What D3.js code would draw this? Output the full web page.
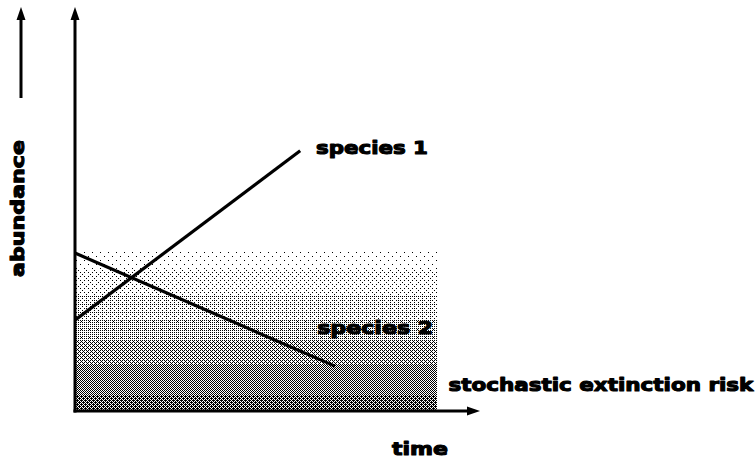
<!DOCTYPE html>
<html>
<head>
<meta charset="utf-8">
<script src="https://cdn.jsdelivr.net/npm/d3@7"></script>
<style>
  body { margin: 0; background: #fff; }
  text { font-family: "DejaVu Sans", sans-serif; font-weight: bold; fill: #000; stroke: #000; stroke-width: 1.1; stroke-linejoin: round; }
</style>
</head>
<body>
<div id="chart"></div>
<script>
// conceptual values, time and abundance both on a 0-100 scale
var species1 = [{t: 0, a: 22.5}, {t: 55.6, a: 64.4}]
var species2 = [{t: 0, a: 39.1}, {t: 64.2, a: 11.1}]

// extinction risk zone, split into bands that get darker towards zero
var riskEnd = 89.4
var riskBands = [39.4, 34.9, 28.7, 22.5, 17.6, 11.4, 4.0, 0]

var labels = [
  {text: 'species 1', t: 59.5, a: 63.5, len: 112},
  {text: 'species 2', t: 59.8, a: 19.0, len: 116},
  {text: 'stochastic extinction risk', t: 92.2, a: 4.9, len: 305}
]

var width = 755,
    height = 462

var svg = d3.select('#chart').append('svg')
  .attr('width', width)
  .attr('height', height)

var x = d3.scaleLinear().domain([0, 100]).range([75, 480])
var y = d3.scaleLinear().domain([0, 100]).range([411, 7])

// ordered dither: 8x8 bayer matrix, each band keeps the cells below its level
var bayer = [[0]]
for(var n = 0; n < 3; n++){
  var s = bayer.length, next = []
  for(var r = 0; r < s * 2; r++){
    next.push([])
    for(var c = 0; c < s * 2; c++){
      var b = bayer[r % s][c % s] * 4
      var q = (r < s ? 0 : 2) + (c < s ? 0 : 1)
      next[r].push(b + [0, 2, 3, 1][q])
    }
  }
  bayer = next
}
var levels = [2, 6, 11, 17, 24, 32, 40]

var defs = svg.append('defs')

levels.forEach(function(level, i){
  var pat = defs.append('pattern')
    .attr('id', 'dots' + i)
    .attr('patternUnits', 'userSpaceOnUse')
    .attr('width', 8)
    .attr('height', 8)
  pat.append('rect')
    .attr('width', 8)
    .attr('height', 8)
    .attr('fill', '#fff')
  var cells = []
  bayer.forEach(function(row, r){
    row.forEach(function(v, c){ if(v < level) cells.push([c, r]) })
  })
  pat.selectAll('rect.d')
    .data(cells)
    .enter()
    .append('rect')
    .attr('class', 'd')
    .attr('x', d => d[0])
    .attr('y', d => d[1])
    .attr('width', 1)
    .attr('height', 1)
    .attr('fill', '#000')
})

// shaded bands
var bandData = d3.range(riskBands.length - 1).map(i => ({top: riskBands[i], bottom: riskBands[i + 1], i: i}))

svg.selectAll('rect.band')
  .data(bandData)
  .enter()
  .append('rect')
  .attr('class', 'band')
  .attr('x', x(0))
  .attr('y', d => Math.round(y(d.top)))
  .attr('width', Math.round(x(riskEnd) - x(0)))
  .attr('height', d => Math.round(y(d.bottom)) - Math.round(y(d.top)))
  .attr('fill', d => 'url(#dots' + d.i + ')')
  .attr('shape-rendering', 'crispEdges')

var line = d3.line()
  .x(d => x(d.t))
  .y(d => y(d.a))

svg.selectAll('path.species')
  .data([species1, species2])
  .enter()
  .append('path')
  .attr('class', 'species')
  .attr('d', line)
  .attr('fill', 'none')
  .attr('stroke', '#000')
  .attr('stroke-width', 3.2)

// axes
svg.append('line')
  .attr('x1', x(0)).attr('y1', y(0) + 1.5)
  .attr('x2', x(0)).attr('y2', y(100) + 8)
  .attr('stroke', '#000')
  .attr('stroke-width', 3)

svg.append('line')
  .attr('x1', x(0) - 1.5).attr('y1', y(0))
  .attr('x2', x(100) - 8).attr('y2', y(0))
  .attr('stroke', '#000')
  .attr('stroke-width', 3)

// small arrow next to the y label
svg.append('line')
  .attr('x1', 21).attr('y1', 98)
  .attr('x2', 21).attr('y2', 15)
  .attr('stroke', '#000')
  .attr('stroke-width', 3)

function arrowUp(cx, tip){
  return 'M' + cx + ',' + tip + ' L' + (cx + 4.5) + ',' + (tip + 13) + ' L' + (cx - 4.5) + ',' + (tip + 13) + ' Z'
}
function arrowRight(tip, cy){
  return 'M' + tip + ',' + cy + ' L' + (tip - 13) + ',' + (cy - 4.5) + ' L' + (tip - 13) + ',' + (cy + 4.5) + ' Z'
}

svg.append('path').attr('d', arrowUp(x(0), y(100))).attr('fill', '#000')
svg.append('path').attr('d', arrowUp(21, 7)).attr('fill', '#000')
svg.append('path').attr('d', arrowRight(x(100), y(0))).attr('fill', '#000')

svg.selectAll('text.lbl')
  .data(labels)
  .enter()
  .append('text')
  .attr('class', 'lbl')
  .attr('x', d => x(d.t))
  .attr('y', d => y(d.a))
  .attr('font-size', 18)
  .attr('textLength', d => d.len)
  .attr('lengthAdjust', 'spacingAndGlyphs')
  .text(d => d.text)

svg.append('text')
  .attr('x', 392)
  .attr('y', 455)
  .attr('font-size', 18)
  .attr('textLength', 56)
  .attr('lengthAdjust', 'spacingAndGlyphs')
  .text('time')

svg.append('text')
  .attr('transform', 'translate(24,277) rotate(-90)')
  .attr('font-size', 18)
  .attr('textLength', 137)
  .attr('lengthAdjust', 'spacingAndGlyphs')
  .text('abundance')
</script>
</body>
</html>
